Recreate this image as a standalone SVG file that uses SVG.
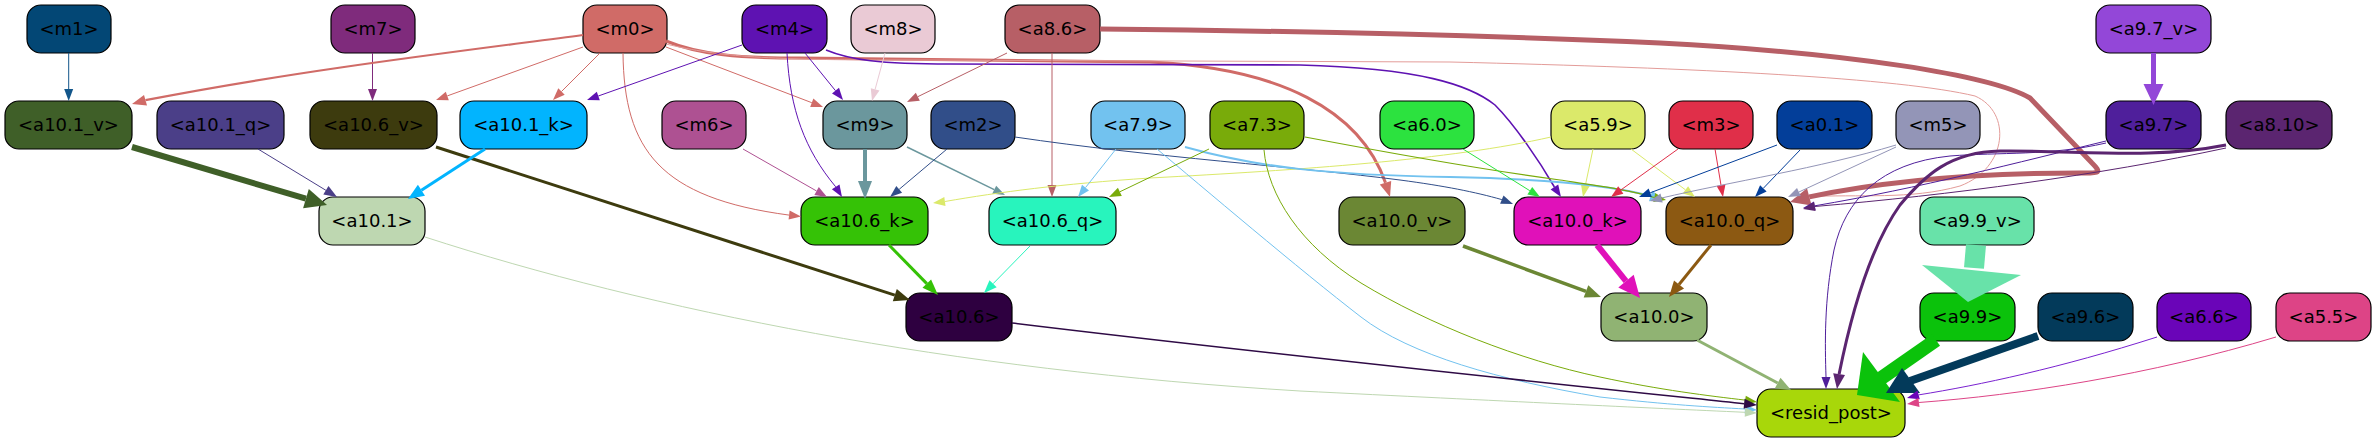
<svg xmlns="http://www.w3.org/2000/svg" width="2376" height="443" viewBox="0 0 2376 443">
<style>
.n rect{stroke:#000;stroke-width:1.2}
.n text{font-family:"DejaVu Sans",sans-serif;font-size:18px;text-anchor:middle;fill:#000}
#edges path{fill:none}
#edges polygon{stroke:none}
</style>
<rect width="2376" height="443" fill="#fff"/>
<g id="nodes">
<g id="m1" class="n"><rect x="27" y="5" width="84" height="48" rx="14" fill="#034775"/><text x="69" y="34.5">&lt;m1&gt;</text></g>
<g id="m7" class="n"><rect x="331" y="5" width="84" height="48" rx="14" fill="#7f2b7c"/><text x="373" y="34.5">&lt;m7&gt;</text></g>
<g id="m0" class="n"><rect x="583" y="5" width="84" height="48" rx="14" fill="#d06b67"/><text x="625" y="34.5">&lt;m0&gt;</text></g>
<g id="m4" class="n"><rect x="742" y="5" width="85" height="48" rx="14" fill="#5e12b2"/><text x="784.5" y="34.5">&lt;m4&gt;</text></g>
<g id="m8" class="n"><rect x="851" y="5" width="84" height="48" rx="14" fill="#eacad5"/><text x="893" y="34.5">&lt;m8&gt;</text></g>
<g id="a8.6" class="n"><rect x="1005" y="5" width="95" height="48" rx="14" fill="#b75f66"/><text x="1052.5" y="34.5">&lt;a8.6&gt;</text></g>
<g id="a9.7_v" class="n"><rect x="2096" y="5" width="115" height="48" rx="14" fill="#9347d8"/><text x="2153.5" y="34.5">&lt;a9.7_v&gt;</text></g>

<g id="a10.1_v" class="n"><rect x="5" y="101" width="127" height="48" rx="14" fill="#3f5f28"/><text x="68.5" y="130.5">&lt;a10.1_v&gt;</text></g>
<g id="a10.1_q" class="n"><rect x="157" y="101" width="127" height="48" rx="14" fill="#4b3f88"/><text x="220.5" y="130.5">&lt;a10.1_q&gt;</text></g>
<g id="a10.6_v" class="n"><rect x="310" y="101" width="127" height="48" rx="14" fill="#3d3b0e"/><text x="373.5" y="130.5">&lt;a10.6_v&gt;</text></g>
<g id="a10.1_k" class="n"><rect x="460" y="101" width="127" height="48" rx="14" fill="#02b4fe"/><text x="523.5" y="130.5">&lt;a10.1_k&gt;</text></g>
<g id="m6" class="n"><rect x="662" y="101" width="84" height="48" rx="14" fill="#ae5192"/><text x="704" y="130.5">&lt;m6&gt;</text></g>
<g id="m9" class="n"><rect x="823" y="101" width="84" height="48" rx="14" fill="#6b979d"/><text x="865" y="130.5">&lt;m9&gt;</text></g>
<g id="m2" class="n"><rect x="931" y="101" width="84" height="48" rx="14" fill="#314e89"/><text x="973" y="130.5">&lt;m2&gt;</text></g>
<g id="a7.9" class="n"><rect x="1091" y="101" width="94" height="48" rx="14" fill="#72c2ef"/><text x="1138" y="130.5">&lt;a7.9&gt;</text></g>
<g id="a7.3" class="n"><rect x="1210" y="101" width="94" height="48" rx="14" fill="#79ab0a"/><text x="1257" y="130.5">&lt;a7.3&gt;</text></g>
<g id="a6.0" class="n"><rect x="1380" y="101" width="94" height="48" rx="14" fill="#2ce23f"/><text x="1427" y="130.5">&lt;a6.0&gt;</text></g>
<g id="a5.9" class="n"><rect x="1551" y="101" width="94" height="48" rx="14" fill="#dbe96a"/><text x="1598" y="130.5">&lt;a5.9&gt;</text></g>
<g id="m3" class="n"><rect x="1669" y="101" width="84" height="48" rx="14" fill="#e02f49"/><text x="1711" y="130.5">&lt;m3&gt;</text></g>
<g id="a0.1" class="n"><rect x="1777" y="101" width="95" height="48" rx="14" fill="#033e99"/><text x="1824.5" y="130.5">&lt;a0.1&gt;</text></g>
<g id="m5" class="n"><rect x="1896" y="101" width="84" height="48" rx="14" fill="#9395b7"/><text x="1938" y="130.5">&lt;m5&gt;</text></g>
<g id="a9.7" class="n"><rect x="2106" y="101" width="95" height="48" rx="14" fill="#4f1f9b"/><text x="2153.5" y="130.5">&lt;a9.7&gt;</text></g>
<g id="a8.10" class="n"><rect x="2226" y="101" width="106" height="48" rx="14" fill="#5b2570"/><text x="2279" y="130.5">&lt;a8.10&gt;</text></g>

<g id="a10.1" class="n"><rect x="319" y="197" width="106" height="48" rx="14" fill="#bed7b1"/><text x="372" y="226.5">&lt;a10.1&gt;</text></g>
<g id="a10.6_k" class="n"><rect x="801" y="197" width="127" height="48" rx="14" fill="#35c206"/><text x="864.5" y="226.5">&lt;a10.6_k&gt;</text></g>
<g id="a10.6_q" class="n"><rect x="989" y="197" width="127" height="48" rx="14" fill="#28f4bd"/><text x="1052.5" y="226.5">&lt;a10.6_q&gt;</text></g>
<g id="a10.0_v" class="n"><rect x="1339" y="197" width="126" height="48" rx="14" fill="#6b8734"/><text x="1402" y="226.5">&lt;a10.0_v&gt;</text></g>
<g id="a10.0_k" class="n"><rect x="1514" y="197" width="127" height="48" rx="14" fill="#e011b9"/><text x="1577.5" y="226.5">&lt;a10.0_k&gt;</text></g>
<g id="a10.0_q" class="n"><rect x="1666" y="197" width="127" height="48" rx="14" fill="#8c5912"/><text x="1729.5" y="226.5">&lt;a10.0_q&gt;</text></g>
<g id="a9.9_v" class="n"><rect x="1920" y="197" width="114" height="48" rx="14" fill="#68e2a9"/><text x="1977" y="226.5">&lt;a9.9_v&gt;</text></g>

<g id="a10.6" class="n"><rect x="906" y="293" width="106" height="48" rx="14" fill="#2e0040"/><text x="959" y="322.5">&lt;a10.6&gt;</text></g>
<g id="a10.0" class="n"><rect x="1601" y="293" width="106" height="48" rx="14" fill="#90b373"/><text x="1654" y="322.5">&lt;a10.0&gt;</text></g>
<g id="a9.9" class="n"><rect x="1920" y="293" width="95" height="48" rx="14" fill="#0bc20b"/><text x="1967.5" y="322.5">&lt;a9.9&gt;</text></g>
<g id="a9.6" class="n"><rect x="2038" y="293" width="95" height="48" rx="14" fill="#033a5a"/><text x="2085.5" y="322.5">&lt;a9.6&gt;</text></g>
<g id="a6.6" class="n"><rect x="2157" y="293" width="94" height="48" rx="14" fill="#6a05b8"/><text x="2204" y="322.5">&lt;a6.6&gt;</text></g>
<g id="a5.5" class="n"><rect x="2276" y="293" width="95" height="48" rx="14" fill="#dd4486"/><text x="2323.5" y="322.5">&lt;a5.5&gt;</text></g>

<g id="resid_post" class="n"><rect x="1757" y="389" width="148" height="48" rx="14" fill="#a8d70a"/><text x="1831" y="418.5">&lt;resid_post&gt;</text></g>
</g>

<g id="edges">
<!-- m1 -> a10.1_v -->
<path d="M68.7,53 V89" stroke="#13568a" stroke-width="1"/><polygon points="64.2,89 68.7,101 73.2,89" fill="#13568a"/>
<!-- m7 -> a10.6_v -->
<path d="M372.5,53 V89" stroke="#7f2b7c" stroke-width="1"/><polygon points="368,89 372.5,101 377,89" fill="#7f2b7c"/>
<!-- m0 -> a10.1_v -->
<path d="M583,35 C470,50 300,70 145.5,100.2" stroke="#d06b67" stroke-width="2.2"/><polygon points="147,105.5 132,104 144,94.9" fill="#d06b67"/>
<!-- m0 -> a10.6_v -->
<path d="M583,47 L447.3,95.9" stroke="#d06b67" stroke-width="1"/><polygon points="448.8,100.2 436,100 445.8,91.7" fill="#d06b67"/>
<!-- m0 -> a10.1_k -->
<path d="M600,53 L561.5,91.5" stroke="#d06b67" stroke-width="1"/><polygon points="564.7,94.7 553,100 558.3,88.3" fill="#d06b67"/>
<!-- m0 -> m9 -->
<path d="M666,47 L811.8,102.7" stroke="#d06b67" stroke-width="1"/><polygon points="810.2,106.9 823,107 813.4,98.5" fill="#d06b67"/>
<!-- m0 -> a10.6_k -->
<path d="M623,53 C624,150 660,198 789.1,215.1" stroke="#d06b67" stroke-width="1"/><polygon points="788.6,219.6 801,216.5 789.6,210.6" fill="#d06b67"/>
<!-- m0 -> a10.0_v -->
<path d="M666,41 C700,55 740,58 800,58 L1150,62 C1280,68 1360,110 1385.5,182.7" stroke="#d06b67" stroke-width="3"/><polygon points="1379.8,184.5 1390,197 1391.2,180.9" fill="#d06b67"/>
<!-- m0 -> a10.0_q -->
<path d="M666,44 C720,57 770,60 900,60 L1450,62 C1700,68 1900,78 1975,96 C2012,112 2008,168 1960,186 C1910,200 1860,194 1805.8,196.7" stroke="#e39c99" stroke-width="1"/><polygon points="1806.7,201.1 1794,199 1804.9,192.3" fill="#e39c99"/>
<!-- m4 -> a10.1_k -->
<path d="M742,45 L598.3,96" stroke="#5e12b2" stroke-width="1"/><polygon points="599.8,100.2 587,100 596.8,91.8" fill="#5e12b2"/>
<!-- m4 -> m9 -->
<path d="M805,53 L835.5,90.7" stroke="#5e12b2" stroke-width="1"/><polygon points="832,93.5 843,100 839,87.8" fill="#5e12b2"/>
<!-- m4 -> a10.6_k -->
<path d="M787,53 C790,110 805,150 835.7,186.8" stroke="#5e12b2" stroke-width="1"/><polygon points="831.9,189.2 842,197 839.5,184.4" fill="#5e12b2"/>
<!-- m4 -> a10.0_k -->
<path d="M826,50 C850,60 880,64 950,64 L1300,65 C1420,68 1470,85 1495,105 C1515,125 1540,162 1554.4,187" stroke="#5e12b2" stroke-width="1.6"/><polygon points="1550.6,189.5 1561,197 1558.2,184.5" fill="#5e12b2"/>
<!-- m8 -> m9 -->
<path d="M885,53 L875.1,89.4" stroke="#eacad5" stroke-width="1"/><polygon points="879.5,90.6 872,101 870.8,88.2" fill="#eacad5"/>
<!-- a8.6 -> m9 -->
<path d="M1007,53 L917.8,96.7" stroke="#b75f66" stroke-width="1"/><polygon points="919.8,100.7 907,102 915.8,92.7" fill="#b75f66"/>
<!-- a8.6 -> a10.6_q -->
<path d="M1052,53 V185" stroke="#b75f66" stroke-width="1"/><polygon points="1047.5,185 1052,197 1056.5,185" fill="#b75f66"/>
<!-- a8.6 -> a10.0_q -->
<path d="M1100,29 C1300,31 1500,36 1660,43 C1850,53 1990,75 2030,98 L2092,163 C2103,174 2098,173 2080,173 C2000,173 1900,178 1809.3,196.9" stroke="#b75f66" stroke-width="5"/><polygon points="1811.6,205.6 1790,202 1807,188.2" fill="#b75f66"/>
<!-- m6 -> a10.6_k -->
<path d="M743,149 L816.6,191" stroke="#ae5192" stroke-width="1"/><polygon points="814.4,194.9 827,197 818.8,187.1" fill="#ae5192"/>
<!-- m9 -> a10.6_k -->
<path d="M865,149 V181" stroke="#6b979d" stroke-width="4"/><polygon points="858,181 865,199 872,181" fill="#6b979d"/>
<!-- m9 -> a10.6_q -->
<path d="M907,147 L994.2,189.7" stroke="#6b979d" stroke-width="1.5"/><polygon points="992.2,193.7 1005,195 996.2,185.7" fill="#6b979d"/>
<!-- m2 -> a10.6_k -->
<path d="M947,149 L899.2,189.3" stroke="#314e89" stroke-width="1"/><polygon points="902.1,192.7 890,197 896.3,185.9" fill="#314e89"/>
<!-- m2 -> a10.0_k -->
<path d="M1015,137 C1150,157 1300,167 1400,180 C1445,186 1475,192 1501.8,199.6" stroke="#314e89" stroke-width="1"/><polygon points="1500.1,203.8 1513,204 1503.5,195.4" fill="#314e89"/>
<!-- a5.9 -> a10.6_k -->
<path d="M1551,137 C1450,160 1300,170 1150,178 C1060,184 1000,192 944.9,201.5" stroke="#dbe96a" stroke-width="1"/><polygon points="945.5,206 933,203 944.3,197" fill="#dbe96a"/>
<!-- a5.9 -> a10.0_k -->
<path d="M1593,149 L1585.4,185.2" stroke="#dbe96a" stroke-width="1"/><polygon points="1589.8,186.1 1583,197 1581,184.3" fill="#dbe96a"/>
<!-- a5.9 -> a10.0_q -->
<path d="M1631,149 L1685.4,189.8" stroke="#dbe96a" stroke-width="1"/><polygon points="1682.7,193.4 1695,197 1688.1,186.2" fill="#dbe96a"/>
<!-- a7.9 -> a10.6_q -->
<path d="M1116,149 L1085.5,187.6" stroke="#72c2ef" stroke-width="1"/><polygon points="1089,190.4 1078,197 1082,184.8" fill="#72c2ef"/>
<!-- a7.9 -> resid_post -->
<path d="M1157,149 C1200,185 1300,270 1361,317 C1410,355 1500,380 1600,397 C1670,405 1710,407 1745,409" stroke="#72c2ef" stroke-width="1"/><polygon points="1744.6,413.5 1757,410 1745.4,404.5" fill="#72c2ef"/>
<!-- a7.9 -> a10.0_q -->
<path d="M1185,147 C1260,168 1330,175 1450,177 C1550,179 1610,185 1650.6,196" stroke="#72c2ef" stroke-width="2"/><polygon points="1649,201.3 1664,200 1652.2,190.7" fill="#72c2ef"/>
<!-- a7.3 -> a10.6_q -->
<path d="M1209,149 L1119.8,191.8" stroke="#79ab0a" stroke-width="1"/><polygon points="1121.8,195.9 1109,197 1117.9,187.7" fill="#79ab0a"/>
<!-- a7.3 -> resid_post -->
<path d="M1264,150 C1268,195 1300,245 1361,283 C1430,325 1520,360 1600,377 C1660,390 1710,396 1745.1,400.1" stroke="#79ab0a" stroke-width="1"/><polygon points="1744.4,404.5 1757,402 1745.8,395.7" fill="#79ab0a"/>
<!-- a7.3 -> a10.0_q -->
<path d="M1305,137 C1400,155 1500,172 1560,180 C1600,186 1630,190 1654.3,197.5" stroke="#79ab0a" stroke-width="1.2"/><polygon points="1653.3,201.9 1666,200 1655.3,193.1" fill="#79ab0a"/>
<!-- a6.0 -> a10.0_k -->
<path d="M1463,149 L1529.8,190.7" stroke="#2ce23f" stroke-width="1"/><polygon points="1527.4,194.5 1540,197 1532.2,186.9" fill="#2ce23f"/>
<!-- m3 -> a10.0_k -->
<path d="M1678,149 L1620.8,190" stroke="#e02f49" stroke-width="1"/><polygon points="1623.4,193.7 1611,197 1618.2,186.3" fill="#e02f49"/>
<!-- m3 -> a10.0_q -->
<path d="M1715,149 L1721,185.2" stroke="#e02f49" stroke-width="1"/><polygon points="1716.6,185.9 1723,197 1725.4,184.5" fill="#e02f49"/>
<!-- a0.1 -> a10.0_k -->
<path d="M1777,145 L1650.2,192.8" stroke="#033e99" stroke-width="1"/><polygon points="1651.8,197 1639,197 1648.6,188.6" fill="#033e99"/>
<!-- a0.1 -> a10.0_q -->
<path d="M1800,150 L1763.3,188.3" stroke="#033e99" stroke-width="1"/><polygon points="1766.6,191.4 1755,197 1760.1,185.2" fill="#033e99"/>
<!-- m5 -> a10.0_k -->
<path d="M1896,145 C1820,168 1730,182 1661.6,198" stroke="#9395b7" stroke-width="1"/><polygon points="1662.7,202.4 1650,201 1660.5,193.6" fill="#9395b7"/>
<!-- m5 -> a10.0_q -->
<path d="M1896,147 L1798.9,192" stroke="#9395b7" stroke-width="1"/><polygon points="1800.8,196.1 1788,197 1797,187.9" fill="#9395b7"/>
<!-- a9.7 -> a10.0_q -->
<path d="M2106,141 C2020,162 1920,188 1814.8,205.8" stroke="#4f1f9b" stroke-width="1"/><polygon points="1815.6,210.2 1803,208 1814,201.4" fill="#4f1f9b"/>
<!-- a8.10 -> a10.0_q -->
<path d="M2226,148 C2100,175 1950,195 1814.8,206.5" stroke="#5b2570" stroke-width="1"/><polygon points="1815.6,210.9 1803,209 1814,202.1" fill="#5b2570"/>
<!-- a9.7 -> resid_post -->
<path d="M2106,143 C2050,156 2000,152 1950,156 C1880,163 1845,200 1834,250 C1824,300 1825,345 1826,377" stroke="#4f1f9b" stroke-width="1"/><polygon points="1821.5,377 1826,389 1830.5,377" fill="#4f1f9b"/>
<!-- a8.10 -> resid_post -->
<path d="M2226,145 C2150,160 2080,150 2000,151 C1950,152 1925,175 1900,205 C1868,250 1850,320 1839.1,374.1" stroke="#5b2570" stroke-width="3"/><polygon points="1845,374.9 1837,389 1833.2,373.3" fill="#5b2570"/>
<!-- a9.7_v -> a9.7 -->
<path d="M2153.5,53 V84" stroke="#9347d8" stroke-width="5"/><polygon points="2143.5,84 2153.5,105 2163.5,84" fill="#9347d8"/>
<!-- a9.9_v -> a9.9 -->
<path d="M1976,245 L1974,268" stroke="#68e2a9" stroke-width="20"/><polygon points="1922,265 2021,275 1968,302" fill="#68e2a9"/>
<!-- a9.9 -> resid_post -->
<path d="M1936,340 L1880,379" stroke="#0bc20b" stroke-width="14"/><polygon points="1863,352 1900,402 1857,395" fill="#0bc20b"/>
<!-- a9.6 -> resid_post -->
<path d="M2038,336 L1910,381" stroke="#033a5a" stroke-width="8"/><polygon points="1902,368 1920,393 1886,393" fill="#033a5a"/>
<!-- a6.6 -> resid_post -->
<path d="M2157,337 C2060,368 1980,385 1918.6,394.9" stroke="#7a22d0" stroke-width="1"/><polygon points="1919.8,399.3 1907,398 1917.5,390.6" fill="#6a05b8"/>
<!-- a5.5 -> resid_post -->
<path d="M2276,337 C2150,375 2020,395 1918.9,402.5" stroke="#dd4486" stroke-width="1"/><polygon points="1919.5,407 1907,404 1918.4,398.1" fill="#dd4486"/>
<!-- a10.0 -> resid_post -->
<path d="M1697,340 L1777.7,383" stroke="#90b373" stroke-width="3"/><polygon points="1774.9,388.3 1791,390 1780.5,377.7" fill="#90b373"/>
<!-- a10.0_k -> a10.0 -->
<path d="M1597,245 L1626,281.1" stroke="#e011b9" stroke-width="6"/><polygon points="1618.3,287.5 1640,298 1633.7,274.7" fill="#e011b9"/>
<!-- a10.0_q -> a10.0 -->
<path d="M1711,245 L1679,284.5" stroke="#8c5912" stroke-width="3"/><polygon points="1684.1,288.6 1669,297 1674,280.5" fill="#8c5912"/>
<!-- a10.0_v -> a10.0 -->
<path d="M1463,246 L1586,291.4" stroke="#6b8734" stroke-width="3.5"/><polygon points="1583.7,297.5 1601,297 1588.3,285.3" fill="#6b8734"/>
<!-- a10.6_k -> a10.6 -->
<path d="M889,245 L926.8,283.6" stroke="#35c206" stroke-width="3"/><polygon points="922.5,287.8 938,295 931.1,279.4" fill="#35c206"/>
<!-- a10.6_q -> a10.6 -->
<path d="M1030,246 L993.1,283.7" stroke="#28f4bd" stroke-width="1"/><polygon points="996.7,287.2 984,293 989.5,280.2" fill="#28f4bd"/>
<!-- a10.6_v -> a10.6 -->
<path d="M436,147 L894.8,295.1" stroke="#3d3b0e" stroke-width="3"/><polygon points="892.8,301.3 910,300 896.8,288.9" fill="#3d3b0e"/>
<!-- a10.6 -> resid_post -->
<path d="M1012,323 C1250,352 1500,378 1744.1,403.7" stroke="#2e0a45" stroke-width="1.5"/><polygon points="1743.6,408.7 1757,405 1744.6,398.7" fill="#2e0a45"/>
<!-- a10.1 -> resid_post -->
<path d="M425,237 C650,310 950,370 1300,391 C1500,401 1650,408 1745,412.3" stroke="#bed7b1" stroke-width="1"/><polygon points="1744.7,416.8 1757,413 1745.3,407.8" fill="#bed7b1"/>
<!-- a10.1_v -> a10.1 -->
<path d="M132,147 L305.9,198.7" stroke="#3f5f28" stroke-width="6"/><polygon points="303.1,208.3 327,205 308.8,189.1" fill="#3f5f28"/>
<!-- a10.1_q -> a10.1 -->
<path d="M258,149 L325.9,190.3" stroke="#4b3f88" stroke-width="1"/><polygon points="323.3,194.6 337,197 328.5,186" fill="#4b3f88"/>
<!-- a10.1_k -> a10.1 -->
<path d="M485,149 L421.4,190.3" stroke="#02b4fe" stroke-width="3"/><polygon points="425,195.7 408,199 417.9,184.8" fill="#02b4fe"/>
</g>
</svg>
